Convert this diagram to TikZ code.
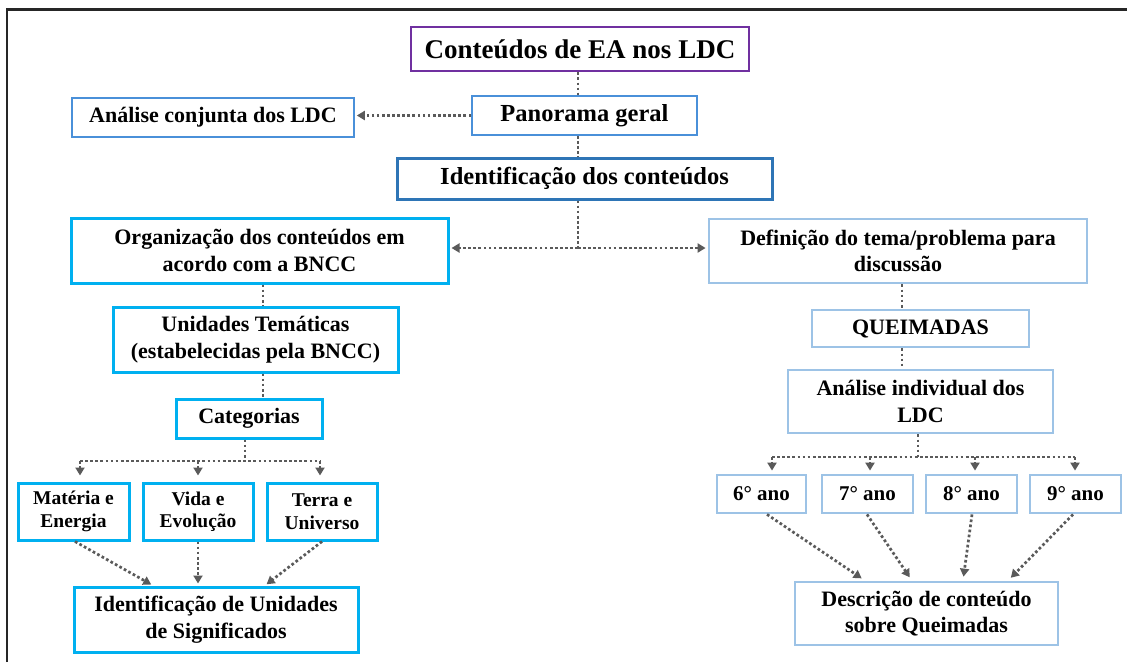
\documentclass[tikz,border=0pt]{standalone}
\usepackage{fontspec}
\setmainfont{Liberation Serif}
\usetikzlibrary{arrows.meta}
\definecolor{purp}{HTML}{7030A0}
\definecolor{midblue}{HTML}{4A90D9}
\definecolor{darkblue}{HTML}{2E75B6}
\definecolor{cyanb}{HTML}{00B0F0}
\definecolor{lightb}{HTML}{9DC3E6}
\definecolor{conn}{HTML}{5A5A5A}
\begin{document}
\begin{tikzpicture}[x=1pt,y=-1pt,
  bx/.style={draw, rectangle, inner sep=0pt, align=center, fill=white},
  wh/.style 2 args={minimum width=#1pt, minimum height=#2pt},
  fs/.style 2 args={font=\bfseries\fontsize{#1}{#2}\selectfont},
  bpurp/.style={bx, draw=purp, line width=2.6pt},
  bmid/.style={bx, draw=midblue, line width=1.6pt},
  bdark/.style={bx, draw=darkblue, line width=3pt},
  bcyan/.style={bx, draw=cyanb, line width=3pt},
  blight/.style={bx, draw=lightb, line width=2.8pt},
  con/.style={draw=conn, line width=2.7pt, dash pattern=on 2.7pt off 2.4pt},
  arr/.style={con, -{Triangle[length=8pt,width=9pt]}},
]
\useasboundingbox (0,0) rectangle (1127,662);
\draw[line width=2.6pt, black!85] (7,662) -- (7,9.5) -- (1127,9.5);

% nodes
\node[bpurp, wh={338}{44}, fs={27}{31}] (title) at (580,49) {Conteúdos de EA nos LDC};
\node[bmid, wh={225}{39}, fs={24.5}{28}] (pano) at (584.5,115.5) {Panorama geral};
\node[bmid, wh={282}{39}, fs={22}{26}] (anal) at (213,117.5) {Análise conjunta dos LDC};
\node[bdark, wh={375}{41}, fs={24.5}{28}] (ident) at (584.5,178.5) {Identificação dos conteúdos};

\node[bcyan, wh={377}{65}, fs={22}{26.5}] (org) at (259.5,250.5) {Organização dos conteúdos em\\acordo com a BNCC};
\node[blight, wh={378}{64}, fs={22}{26.5}] (def) at (898,251) {Definição do tema/problema para\\discussão};

\node[bcyan, wh={285}{65}, fs={22}{26.5}] (unid) at (255.5,339.5) {Unidades Temáticas\\(estabelecidas pela BNCC)};
\node[bcyan, wh={146}{39}, fs={22}{26}] (cat) at (249,418.5) {Categorias};
\node[bcyan, wh={111}{57}, fs={19.5}{22.5}] (mat) at (73.5,511.5) {Matéria e\\Energia};
\node[bcyan, wh={110}{57}, fs={19.5}{22.5}] (vida) at (198,511.5) {Vida e\\Evolução};
\node[bcyan, wh={110}{57}, fs={19.5}{22.5}] (terra) at (322,511.5) {Terra e\\Universo};
\node[bcyan, wh={284}{65}, fs={22}{26.5}] (idus) at (216,619.5) {Identificação de Unidades\\de Significados};

\node[blight, wh={217}{37}, fs={22}{26}] (quei) at (920.5,328.5) {QUEIMADAS};
\node[blight, wh={265}{63}, fs={22}{26.5}] (aind) at (920.5,401.5) {Análise individual dos\\LDC};
\node[blight, wh={89}{38}, fs={21}{25}] (y6) at (761.5,494) {6° ano};
\node[blight, wh={91}{38}, fs={21}{25}] (y7) at (867.5,494) {7° ano};
\node[blight, wh={91}{38}, fs={21}{25}] (y8) at (971.5,494) {8° ano};
\node[blight, wh={91}{38}, fs={21}{25}] (y9) at (1075.5,494) {9° ano};
\node[blight, wh={263}{63}, fs={22}{26.5}] (desc) at (926.5,613.5) {Descrição de conteúdo\\sobre Queimadas};

% top connectors
\draw[con] (title.south -| 578,0) -- (pano.north -| 578,0);
\draw[arr, shorten >=2pt] (pano.west) -- (pano.west -| anal.east);
\draw[con] (pano.south -| 578,0) -- (ident.north -| 578,0);
\coordinate (jA) at (578,248);
\draw[con] (ident.south -| jA) -- (jA);
\draw[arr, shorten >=2pt] (jA) -- (jA -| org.east);
\draw[arr, shorten >=2pt] (jA) -- (jA -| def.west);

% left branch
\draw[con] (org.south -| 263,0) -- (unid.north -| 263,0);
\draw[con] (unid.south -| 263,0) -- (cat.north -| 263,0);
\coordinate (jB) at (245,461);
\coordinate (bL) at (80,461);
\coordinate (bM) at (198,461);
\coordinate (bR) at (320,461);
\draw[con] (cat.south -| jB) -- (jB);
\draw[con] (bL) -- (bR);
\draw[arr, shorten >=6pt] (bL) -- (mat.north -| bL);
\draw[arr, shorten >=6pt] (bM) -- (vida.north -| bM);
\draw[arr, shorten >=6pt] (bR) -- (terra.north -| bR);
\draw[arr, shorten >=2pt] (mat.south -| 75,0) -- (idus.north -| 153,0);
\draw[arr, shorten >=2pt] (vida.south -| 198,0) -- (idus.north -| 198,0);
\draw[arr, shorten >=2pt] (terra.south -| 322,0) -- (idus.north -| 265,0);

% right branch
\draw[con] (def.south -| 902,0) -- (quei.north -| 902,0);
\draw[con] (quei.south -| 902,0) -- (aind.north -| 902,0);
\coordinate (jC) at (918,457);
\coordinate (r6) at (772,457);
\coordinate (r7) at (870,457);
\coordinate (r8) at (975,457);
\coordinate (r9) at (1075,457);
\draw[con] (aind.south -| jC) -- (jC);
\draw[con] (r6) -- (r9);
\draw[arr, shorten >=3pt] (r6) -- (y6.north -| r6);
\draw[arr, shorten >=3pt] (r7) -- (y7.north -| r7);
\draw[arr, shorten >=3pt] (r8) -- (y8.north -| r8);
\draw[arr, shorten >=3pt] (r9) -- (y9.north -| r9);
\draw[arr, shorten >=4pt] (y6.south -| 767,0) -- (desc.north -| 865,0);
\draw[arr, shorten >=4pt] (y7.south -| 867,0) -- (desc.north -| 912,0);
\draw[arr, shorten >=4pt] (y8.south -| 972,0) -- (desc.north -| 963,0);
\draw[arr, shorten >=4pt] (y9.south -| 1073,0) -- (desc.north -| 1008,0);
\end{tikzpicture}
\end{document}
